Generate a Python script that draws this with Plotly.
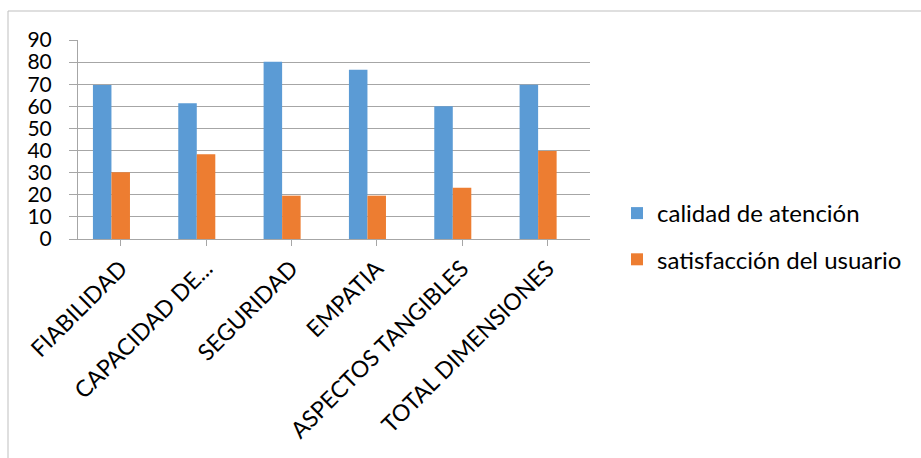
import plotly.graph_objects as go

categories = ["FIABILIDAD", "CAPACIDAD DE...", "SEGURIDAD", "EMPATIA",
              "ASPECTOS TANGIBLES", "TOTAL DIMENSIONES"]
calidad = [69.7, 61.4, 80.2, 76.5, 60.0, 69.8]
satisfaccion = [30.2, 38.3, 19.6, 19.6, 23.2, 39.8]
series_names = ["calidad de atención", "satisfacción del usuario"]
y_ticks = [0, 10, 20, 30, 40, 50, 60, 70, 80, 90]

BLUE = "#5b9bd5"
ORANGE = "#ed7d31"
GRID = "#a6a6a6"
FONT = "Lato, Open Sans, sans-serif"

W, H = 921, 458
L, R, T, B = 78, 331, 40, 219
plot_w, plot_h = W - L - R, H - T - B

x_idx = list(range(len(categories)))

fig = go.Figure()
fig.add_trace(go.Bar(x=x_idx, y=calidad, name=series_names[0],
                     marker=dict(color=BLUE, line=dict(width=0)),
                     width=0.217, offset=-0.325, legendgroup="a"))
fig.add_trace(go.Bar(x=x_idx, y=satisfaccion, name=series_names[1],
                     marker=dict(color=ORANGE, line=dict(width=0)),
                     width=0.217, offset=-0.108, legendgroup="b"))


def px_x(p):
    return (p - L) / plot_w


def px_y(p):
    return (H - B - p) / plot_h


fig.update_layout(
    width=W, height=H,
    margin=dict(l=L, r=R, t=T, b=B),
    paper_bgcolor="white", plot_bgcolor="white",
    barmode="overlay",
    font=dict(family=FONT, color="#000000"),
    showlegend=True,
    legend=dict(x=px_x(617), y=px_y(191), xanchor="left", yanchor="top",
                font=dict(size=24, family=FONT, color="#000000"),
                tracegroupgap=12, traceorder="grouped",
                itemsizing="constant", bgcolor="rgba(0,0,0,0)"),
    xaxis=dict(range=[-0.5, 5.5], tickmode="array", tickvals=x_idx,
               ticktext=categories, tickangle=-45,
               tickfont=dict(size=23, family=FONT, color="#000000"),
               showgrid=False, showline=True, linecolor=GRID, linewidth=1,
               ticks="outside", tickson="boundaries", ticklen=6,
               tickcolor=GRID, zeroline=False, fixedrange=True),
    yaxis=dict(range=[0, 90], tickmode="array", tickvals=y_ticks,
               tickfont=dict(size=21, family=FONT, color="#000000"),
               showgrid=True, gridcolor=GRID, gridwidth=1,
               showline=True, linecolor=GRID, linewidth=1,
               ticks="outside", ticklen=8, tickcolor=GRID,
               ticklabelstandoff=13,
               zeroline=True, zerolinecolor=GRID, zerolinewidth=1,
               fixedrange=True),
    shapes=[dict(type="rect", xref="paper", yref="paper",
                 x0=px_x(8), y0=px_y(470), x1=px_x(930), y1=px_y(11),
                 line=dict(color="#bfbfbf", width=1), layer="below")],
)

fig.write_html("out.html")
